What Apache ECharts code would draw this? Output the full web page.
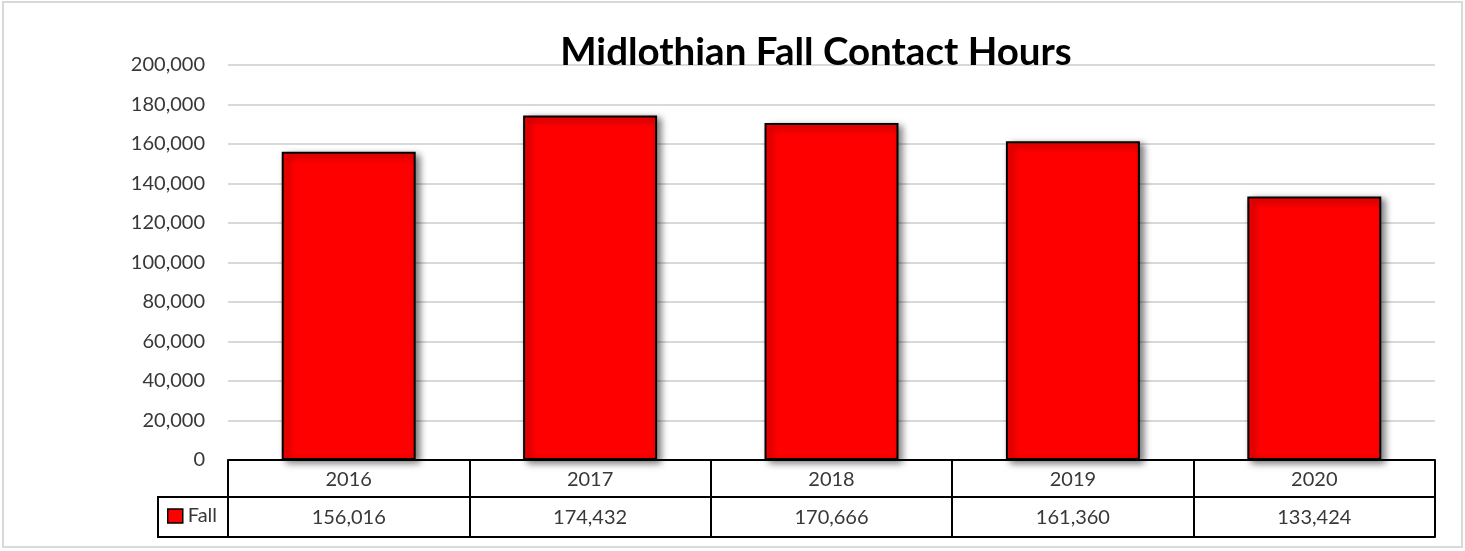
<!DOCTYPE html>
<html>
<head>
<meta charset="utf-8">
<script src="https://cdn.jsdelivr.net/npm/echarts@6/dist/echarts.min.js"></script>
<style>
  html, body { margin: 0; padding: 0; background: #fff; }
  #chart { width: 1465px; height: 551px; }
</style>
</head>
<body>
<div id="chart"></div>
<script>
// Fall contact hours by year
const years = ['2016', '2017', '2018', '2019', '2020'];
const fallHours = [156016, 174432, 170666, 161360, 133424];
const seriesName = 'Fall';
const chartTitle = 'Midlothian Fall Contact Hours';

const FONT = 'Lato, "Open Sans", sans-serif';
const TEXT = '#383838';
const fmt = v => Number(v).toLocaleString('en-US');

const chart = echarts.init(document.getElementById('chart'));

const grid = { left: 228, right: 30, top: 65, bottom: 91 };
const rowH = 37;      // year row height
const row2H = 40;     // value row height

chart.setOption({
  animation: false,
  backgroundColor: '#fff',
  title: {
    text: chartTitle,
    left: 811,
    textAlign: 'center',
    top: 28,
    textStyle: { fontFamily: FONT, fontWeight: 'bold', fontSize: 38.5, color: '#000' }
  },
  legend: {
    data: [seriesName],
    left: 167,
    top: 506,
    icon: 'rect',
    itemWidth: 15,
    itemHeight: 14,
    itemGap: 4,
    padding: 0,
    itemStyle: { color: '#ff0000', borderColor: '#000', borderWidth: 1.5, shadowBlur: 0, shadowOffsetX: 0, shadowOffsetY: 0 },
    textStyle: { fontFamily: FONT, fontSize: 20, color: TEXT, padding: [0, 0, 0, 0] }
  },
  grid: grid,
  xAxis: [
    {
      type: 'category',
      data: years,
      position: 'bottom',
      axisLine: { show: true, lineStyle: { color: '#000', width: 2 } },
      axisTick: { show: true, length: rowH + row2H, lineStyle: { color: '#000', width: 2 } },
      axisLabel: { margin: 10, fontFamily: FONT, fontSize: 20, color: TEXT },
      splitLine: { show: false }
    },
    {
      type: 'category',
      data: fallHours.map(fmt),
      position: 'bottom',
      offset: rowH,
      axisLine: { show: true, lineStyle: { color: '#000', width: 2 } },
      axisTick: { show: false },
      axisLabel: { margin: 11, fontFamily: FONT, fontSize: 20, color: TEXT },
      splitLine: { show: false }
    },
    {
      type: 'category',
      data: years,
      position: 'bottom',
      offset: rowH + row2H,
      axisLine: { show: true, lineStyle: { color: '#000', width: 2 } },
      axisTick: { show: false },
      axisLabel: { show: false },
      splitLine: { show: false }
    }
  ],
  yAxis: {
    type: 'value',
    min: 0,
    max: 200000,
    interval: 20000,
    axisLine: { show: false },
    axisTick: { show: false },
    axisLabel: { margin: 23, fontFamily: FONT, fontSize: 20, color: TEXT, formatter: fmt },
    splitLine: { show: true, lineStyle: { color: '#d9d9d9', width: 2 } }
  },
  series: [{
    name: seriesName,
    type: 'bar',
    data: fallHours,
    barWidth: '55.5%',
    itemStyle: {
      color: '#ff0000',
      borderColor: '#000',
      borderWidth: 2,
      shadowColor: 'rgba(0,0,0,0.55)',
      shadowBlur: 7,
      shadowOffsetX: 4,
      shadowOffsetY: 3
    }
  }],
  graphic: [
    {
      type: 'rect',
      shape: { x: 3, y: 2, width: 1459, height: 545 },
      style: { fill: 'none', stroke: '#d9d9d9', lineWidth: 2 },
      silent: true
    },
    {
      type: 'rect',
      shape: { x: 158, y: 551 - grid.bottom + rowH, width: grid.left - 158, height: row2H },
      style: { fill: 'none', stroke: '#000', lineWidth: 2 },
      silent: true
    }
  ]
});
</script>
</body>
</html>
